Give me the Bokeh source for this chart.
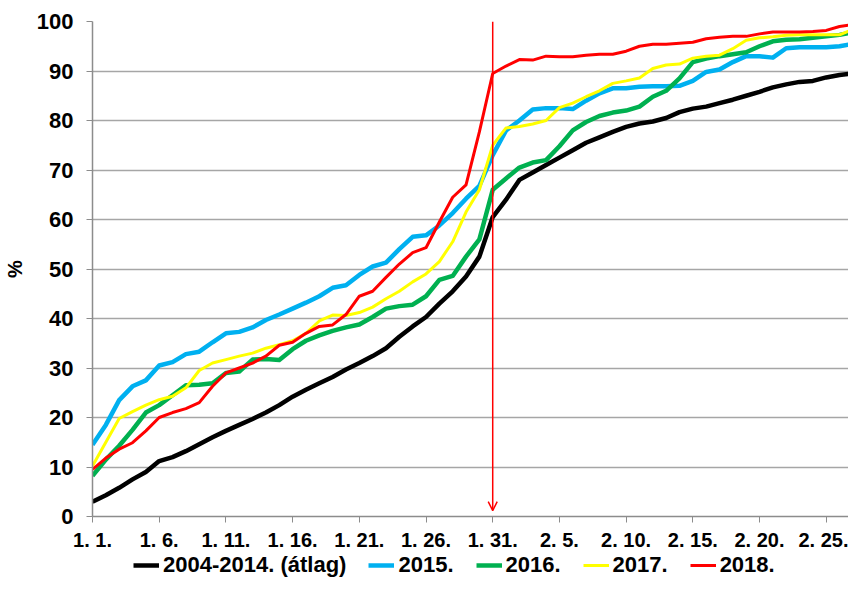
from bokeh.plotting import figure
from bokeh.layouts import column
from bokeh.models import Range1d, FixedTicker, Legend, LegendItem, Arrow, OpenHead, ColumnDataSource
from bokeh.embed import file_html
from bokeh.resources import INLINE

# ---- data (cumulative %, daily from 1 Jan to 28 Feb) ----
day_index = list(range(59))

avg_2004_2014 = [3.0, 4.3, 5.8, 7.5, 9.0, 11.2, 12.0, 13.2, 14.6, 16.0,
                 17.3, 18.5, 19.7, 21.0, 22.5, 24.2, 25.6, 26.9, 28.2, 29.7,
                 31.0, 32.4, 34.0, 36.3, 38.4, 40.3, 43.0, 45.5, 48.5, 52.5,
                 60.5, 64.0, 68.0, 69.5, 71.0, 72.5, 74.0, 75.5, 76.6, 77.7,
                 78.7, 79.4, 79.8, 80.5, 81.7, 82.4, 82.8, 83.5, 84.2, 85.0,
                 85.8, 86.7, 87.3, 87.8, 88.0, 88.7, 89.2, 89.5, 90.0]

y2015 = [14.5, 18.5, 23.5, 26.3, 27.5, 30.5, 31.2, 32.8, 33.3, 35.2,
         37.0, 37.3, 38.2, 39.7, 40.8, 42.0, 43.2, 44.5, 46.2, 46.7,
         48.8, 50.5, 51.3, 54.0, 56.5, 56.8, 58.8, 61.3, 64.2, 66.8,
         73.0, 78.0, 80.0, 82.2, 82.5, 82.5, 82.3, 84.0, 85.5, 86.5,
         86.5, 86.8, 86.9, 86.9, 87.0, 88.0, 89.8, 90.3, 91.8, 93.0,
         93.0, 92.7, 94.6, 94.8, 94.8, 94.8, 95.0, 95.5, 95.8]

y2016 = [8.2, 11.5, 14.3, 17.5, 21.0, 22.5, 24.5, 26.5, 26.6, 26.9,
         29.0, 29.3, 31.7, 31.8, 31.6, 33.8, 35.5, 36.6, 37.5, 38.2,
         38.8, 40.3, 42.0, 42.5, 42.8, 44.5, 47.8, 48.6, 52.5, 56.0,
         66.0, 68.3, 70.5, 71.5, 72.0, 74.8, 78.0, 79.7, 80.9, 81.6,
         82.0, 82.8, 84.8, 86.0, 88.5, 91.8, 92.5, 93.0, 93.4, 93.8,
         95.0, 96.0, 96.3, 96.4, 96.7, 97.0, 97.3, 97.8, 98.2]

y2017 = [10.2, 15.0, 19.8, 21.2, 22.5, 23.6, 24.3, 26.0, 29.5, 31.0,
         31.7, 32.4, 33.0, 34.0, 34.7, 35.5, 37.0, 39.5, 40.7, 40.6,
         41.2, 42.3, 44.0, 45.5, 47.4, 49.0, 51.5, 55.5, 61.5, 66.0,
         75.0, 78.5, 78.8, 79.3, 80.0, 82.6, 83.5, 84.8, 86.0, 87.5,
         88.0, 88.6, 90.5, 91.2, 91.4, 92.6, 93.0, 93.2, 94.5, 96.2,
         96.7, 96.9, 97.2, 97.3, 97.3, 97.3, 97.3, 98.4, 99.0]

y2018 = [9.5, 11.8, 13.6, 14.9, 17.3, 20.0, 21.0, 21.8, 23.0, 26.3,
         29.0, 30.0, 31.0, 32.4, 34.6, 35.2, 37.0, 38.4, 38.7, 40.8,
         44.5, 45.5, 48.3, 51.0, 53.3, 54.3, 59.5, 64.5, 67.0, 77.7,
         89.5, 91.0, 92.3, 92.2, 93.0, 92.9, 92.9, 93.2, 93.4, 93.4,
         94.0, 95.0, 95.4, 95.4, 95.6, 95.8, 96.5, 96.8, 97.0, 97.0,
         97.5, 97.9, 97.9, 97.9, 98.0, 98.2, 99.0, 99.4, 99.6]

tick_days = [0, 5, 10, 15, 20, 25, 30, 35, 40, 45, 50, 55]
tick_labels = ["1. 1.", "1. 6.", "1. 11.", "1. 16.", "1. 21.", "1. 26.",
               "1. 31.", "2. 5.", "2. 10.", "2. 15.", "2. 20.", "2. 25."]
y_ticks = [0, 10, 20, 30, 40, 50, 60, 70, 80, 90, 100]

series_names = ["2004-2014. (átlag)", "2015.", "2016.", "2017.", "2018."]
series_values = [avg_2004_2014, y2015, y2016, y2017, y2018]
series_colors = ["#000000", "#00B0F0", "#00B050", "#FFFF00", "#FF0000"]
series_widths = [4.5, 4.5, 4.5, 3, 3]

arrow_day = 30
arrow_top = 100
arrow_bottom = 1.2

FONT = "Liberation Sans"
GRID = "#a6a6a6"
AXIS = "#8c8c8c"

p = figure(width=848, height=553, output_backend="svg", toolbar_location=None,
           x_range=Range1d(0, 56.67), y_range=Range1d(0, 100),
           min_border_left=83, min_border_right=0, min_border_top=21,
           min_border_bottom=35)
p.outline_line_color = None
p.background_fill_color = "white"

p.xgrid.grid_line_color = None
p.ygrid.ticker = FixedTicker(ticks=y_ticks)
p.ygrid.grid_line_color = GRID
p.ygrid.grid_line_width = 1.5

p.xaxis.ticker = FixedTicker(ticks=tick_days)
p.xaxis.major_label_overrides = {d: l for d, l in zip(tick_days, tick_labels)}
p.xaxis.axis_line_color = AXIS
p.xaxis.axis_line_width = 1.5
p.xaxis.major_tick_line_color = AXIS
p.xaxis.major_tick_in = 0
p.xaxis.major_tick_out = 6
p.xaxis.minor_tick_line_color = None
p.xaxis.major_label_text_font = FONT
p.xaxis.major_label_text_font_style = "bold"
p.xaxis.major_label_text_font_size = "20px"
p.xaxis.major_label_text_color = "black"
p.xaxis.major_label_standoff = 6

p.yaxis.ticker = FixedTicker(ticks=y_ticks)
p.yaxis.axis_line_color = AXIS
p.yaxis.axis_line_width = 1.5
p.yaxis.major_tick_line_color = AXIS
p.yaxis.major_tick_in = 0
p.yaxis.major_tick_out = 6
p.yaxis.minor_tick_line_color = None
p.yaxis.major_label_text_font = FONT
p.yaxis.major_label_text_font_style = "bold"
p.yaxis.major_label_text_font_size = "22px"
p.yaxis.major_label_text_color = "black"
p.yaxis.major_label_standoff = 13
p.yaxis.axis_label = "%"
p.yaxis.axis_label_text_font = FONT
p.yaxis.axis_label_text_font_style = "bold"
p.yaxis.axis_label_text_font_size = "20px"
p.yaxis.axis_label_text_color = "black"
p.yaxis.axis_label_standoff = 8

for vals, col, w in zip(series_values, series_colors, series_widths):
    src = ColumnDataSource(dict(x=day_index, y=vals))
    p.line("x", "y", source=src, line_color=col, line_width=w, line_join="round")

p.add_layout(Arrow(end=OpenHead(size=9, line_color="#FF0000", line_width=1.5),
                   x_start=arrow_day, y_start=arrow_top, x_end=arrow_day, y_end=arrow_bottom,
                   line_color="#FF0000", line_width=1.5))

# legend strip below the chart (its frame is aligned with the chart's frame)
lg = figure(width=848, height=25, output_backend="svg", toolbar_location=None,
            x_range=Range1d(0, 1), y_range=Range1d(0, 1),
            min_border_left=83, min_border_right=0, min_border_top=0, min_border_bottom=0)
lg.axis.visible = False
lg.grid.visible = False
lg.outline_line_color = None

items = []
for name, col, w in zip(series_names, series_colors, series_widths):
    key_src = ColumnDataSource(dict(x=[float("nan")], y=[float("nan")]))
    r = lg.line("x", "y", source=key_src, line_color=col, line_width=w)
    items.append(LegendItem(label=name, renderers=[r]))

legend = Legend(items=items, orientation="horizontal", location=(41, 0),
                glyph_width=26, glyph_height=20, label_standoff=4, spacing=22,
                padding=0, margin=0, border_line_color=None, background_fill_alpha=0,
                label_text_font=FONT, label_text_font_style="bold",
                label_text_font_size="22px", label_text_color="black")
lg.add_layout(legend, "center")

layout = column(p, lg, spacing=0)
open("out.html", "w").write(file_html(layout, INLINE))
